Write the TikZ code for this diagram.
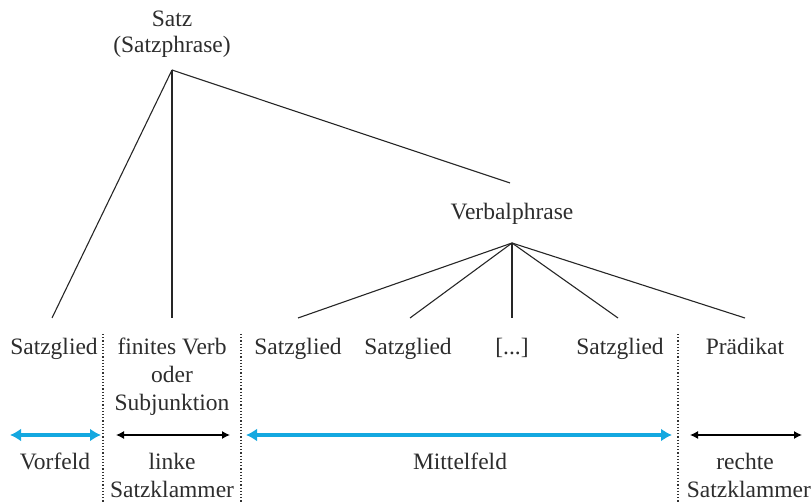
\documentclass[tikz,border=0pt]{standalone}
\usepackage{fontspec}
\setmainfont{Liberation Serif}
\usetikzlibrary{arrows.meta}
\definecolor{cblue}{RGB}{20,168,224}
\definecolor{txt}{RGB}{45,45,45}
\begin{document}
\begin{tikzpicture}[x=1pt,y=-1pt,
  lbl/.style={anchor=base,inner sep=0pt,text=txt,font=\fontsize{23.5}{28}\selectfont,align=center},
  tree/.style={line width=1.1pt,black!85},
  sep/.style={dotted,line width=1.2pt,black!80},
  bluearr/.style={{Latex[length=11pt,width=13pt]}-{Latex[length=11pt,width=13pt]},line width=3.6pt,cblue},
  blackarr/.style={{Latex[length=8pt,width=8pt]}-{Latex[length=8pt,width=8pt]},line width=1.3pt,black}]
\useasboundingbox (0,0) rectangle (812,502);
% top nodes
\node[lbl] (satz) at (172,27) {Satz};
\node[lbl] (satzp) at (172,53) {(Satzphrase)};
\node[lbl] (vp) at (512,220) {Verbalphrase};
% bottom labels
\node[lbl] (sg1) at (54,355) {Satzglied};
\node[lbl] (fv) at (172,355) {finites Verb};
\node[lbl] (oder) at (172,383) {oder};
\node[lbl] (subj) at (172,411) {Subjunktion};
\node[lbl] (sg2) at (298,355) {Satzglied};
\node[lbl] (sg3) at (408,355) {Satzglied};
\node[lbl] (dots) at (512,355) {[...]};
\node[lbl] (sg4) at (620,355) {Satzglied};
\node[lbl] (pr) at (745,355) {Prädikat};
\node[lbl] (vf) at (55,470) {Vorfeld};
\node[lbl] (lk1) at (172,470) {linke};
\node[lbl] (lk2) at (172,498) {Satzklammer};
\node[lbl] (mf) at (460,470) {Mittelfeld};
\node[lbl] (rk1) at (745,470) {rechte};
\node[lbl,anchor=base east] (rk2) at (811,498) {Satzklammer};
% tree coordinates
\coordinate (r) at (172,70);
\coordinate (vpt) at (510,183);
\coordinate (vpb) at (512,243);
\coordinate (e1) at (52,318);
\coordinate (e2) at (172,318);
\coordinate (e3) at (298,318);
\coordinate (e4) at (410,318);
\coordinate (e5) at (512,318);
\coordinate (e6) at (618,318);
\coordinate (e7) at (745,318);
\draw[tree] (r) -- (e1);
\draw[tree] (r) -- (e2);
\draw[tree] (r) -- (vpt);
\foreach \e in {e3,e4,e5,e6,e7} \draw[tree] (vpb) -- (\e);
% separators
\coordinate (d1t) at (103,334); \coordinate (d1b) at (103,502);
\coordinate (d2t) at (241,334); \coordinate (d2b) at (241,502);
\coordinate (d3t) at (678,334); \coordinate (d3b) at (678,502);
\draw[sep] (d1t) -- (d1b);
\draw[sep] (d2t) -- (d2b);
\draw[sep] (d3t) -- (d3b);
% arrows
\coordinate (a1l) at (10,435); \coordinate (a1r) at (101,435);
\coordinate (a2l) at (116,435); \coordinate (a2r) at (230,435);
\coordinate (a3l) at (246,435); \coordinate (a3r) at (672,435);
\coordinate (a4l) at (690,435); \coordinate (a4r) at (802,435);
\draw[bluearr] (a1l) -- (a1r);
\draw[blackarr] (a2l) -- (a2r);
\draw[bluearr] (a3l) -- (a3r);
\draw[blackarr] (a4l) -- (a4r);
\end{tikzpicture}
\end{document}
